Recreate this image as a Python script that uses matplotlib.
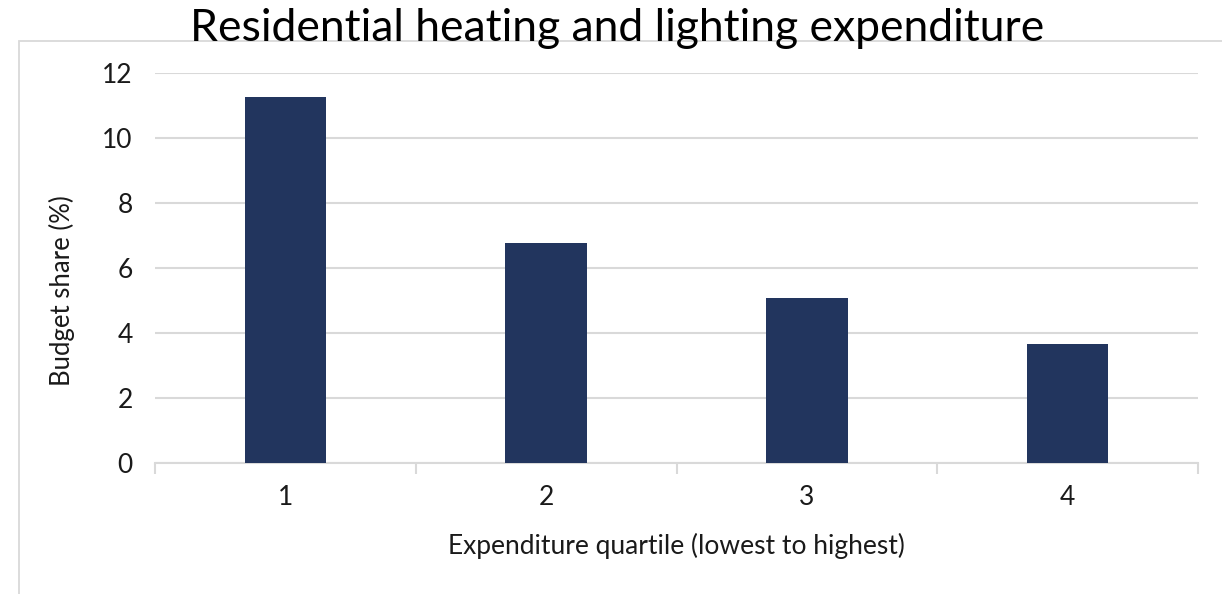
import matplotlib
matplotlib.use("Agg")
import matplotlib.pyplot as plt
from matplotlib.patches import Rectangle
import numpy as np

categories = ["1", "2", "3", "4"]
budget_share = [11.26, 6.78, 5.08, 3.67]
yticks = [0, 2, 4, 6, 8, 10, 12]

title = "Residential heating and lighting expenditure"
xlabel = "Expenditure quartile (lowest to highest)"
ylabel = "Budget share (%)"

plt.rcParams['font.family'] = ['Lato', 'DejaVu Sans']

W, H = 1222, 594
fig = plt.figure(figsize=(W / 100, H / 100), dpi=100)

# outer light frame
fig.patches.append(Rectangle((19 / W, -0.1), 1.2, 1 - 41 / H + 0.1,
                             transform=fig.transFigure, fill=False,
                             edgecolor="#D9D9D9", linewidth=1.3, zorder=0))

ax = fig.add_axes([155 / W, 1 - 463 / H, (1198 - 155) / W, (463 - 73) / H])
x = np.arange(len(categories))
ax.bar(x, budget_share, width=0.313, color="#22355E", zorder=3)
ax.set_xlim(-0.5, len(categories) - 0.5)
ax.set_ylim(0, 12)
ax.set_yticks(yticks)
ax.set_yticklabels([str(v) for v in yticks])
ax.set_xticks(x)
ax.set_xticklabels(categories)
ax.yaxis.grid(True, color="#D9D9D9", linewidth=1.5)
ax.set_axisbelow(True)
for s in ["top", "right", "left"]:
    ax.spines[s].set_visible(False)
ax.spines["bottom"].set_color("#D9D9D9")
ax.spines["bottom"].set_linewidth(1.5)
ax.tick_params(axis="y", length=0, pad=16, labelsize=19, labelcolor="#1a1a1a")
ax.tick_params(axis="x", length=0, pad=16, labelsize=19, labelcolor="#1a1a1a")
# category boundary tick marks
ax.set_xticks(np.arange(len(categories) + 1) - 0.5, minor=True)
ax.tick_params(axis="x", which="minor", length=8, width=1.5, color="#D9D9D9", direction="out")

ax.set_xlabel(xlabel, fontsize=19, color="#1a1a1a")
ax.set_ylabel(ylabel, fontsize=18.5, color="#1a1a1a")
ax.xaxis.set_label_coords(0.5, (463 - 533) / 390)
ax.yaxis.set_label_coords((75 - 155) / 1043, (463 - 291) / 390)

fig.text(617 / W, 1 - 41 / H, title, ha="center", va="baseline", fontsize=32, color="black")

fig.savefig("out.png", dpi=100)
